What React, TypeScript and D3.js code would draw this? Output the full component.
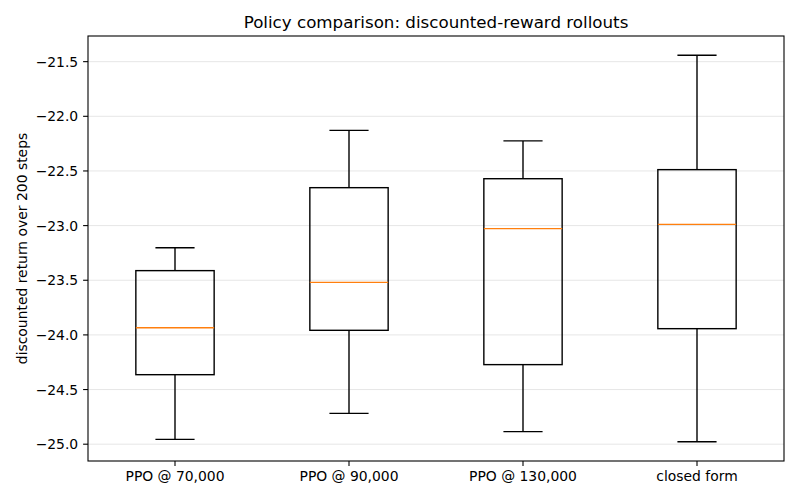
import React from "react";
import * as d3 from "d3";

// Per-policy box statistics (discounted return over 200 steps)
const policies = ["PPO @ 70,000", "PPO @ 90,000", "PPO @ 130,000", "closed form"];
const whiskerLow = [-24.956, -24.718, -24.885, -24.977];
const q1 = [-24.364, -23.958, -24.272, -23.943];
const median = [-23.934, -23.519, -23.028, -22.989];
const q3 = [-23.412, -22.653, -22.571, -22.488];
const whiskerHigh = [-23.202, -22.129, -22.225, -21.442];
const yTicks = [-21.5, -22.0, -22.5, -23.0, -23.5, -24.0, -24.5, -25.0];

const W = 800;
const H = 500;
const margin = { top: 36, right: 16, bottom: 39, left: 88 };
const FONT = "DejaVu Sans, sans-serif";

export default function App() {
  const innerW = W - margin.left - margin.right;
  const innerH = H - margin.top - margin.bottom;

  const lo = d3.min(whiskerLow) as number;
  const hi = d3.max(whiskerHigh) as number;
  const pad = (hi - lo) * 0.05;

  const x = d3.scaleLinear().domain([0.5, policies.length + 0.5]).range([0, innerW]);
  const y = d3.scaleLinear().domain([lo - pad, hi + pad]).range([innerH, 0]);

  const boxW = x(1.45) - x(1);
  const capW = boxW / 2;
  const fmt = (v: number) => v.toFixed(1).replace("-", "\u2212");

  return (
    <svg width={W} height={H} style={{ position: "absolute", left: 0, top: 0 }} fontFamily={FONT}>
      <rect width={W} height={H} fill="#fff" />
      <text x={margin.left + innerW / 2} y={28} textAnchor="middle" fontSize={16.7}>
        Policy comparison: discounted-reward rollouts
      </text>
      <g transform={`translate(${margin.left},${margin.top})`}>
        {yTicks.map((t) => (
          <line key={"g" + t} x1={0} x2={innerW} y1={y(t)} y2={y(t)} stroke="#e6e6e6" strokeWidth={1} />
        ))}
        {policies.map((p, i) => {
          const cx = x(i + 1);
          return (
            <g key={p} fill="none" stroke="#000" strokeWidth={1.4}>
              <line x1={cx} x2={cx} y1={y(q3[i])} y2={y(whiskerHigh[i])} />
              <line x1={cx} x2={cx} y1={y(q1[i])} y2={y(whiskerLow[i])} />
              <line x1={cx - capW / 2} x2={cx + capW / 2} y1={y(whiskerHigh[i])} y2={y(whiskerHigh[i])} />
              <line x1={cx - capW / 2} x2={cx + capW / 2} y1={y(whiskerLow[i])} y2={y(whiskerLow[i])} />
              <rect x={cx - boxW / 2} width={boxW} y={y(q3[i])} height={y(q1[i]) - y(q3[i])} />
              <line x1={cx - boxW / 2} x2={cx + boxW / 2} y1={y(median[i])} y2={y(median[i])} stroke="#ff7f0e" />
            </g>
          );
        })}
        <rect x={0} y={0} width={innerW} height={innerH} fill="none" stroke="#000" strokeWidth={1.1} />
        {yTicks.map((t) => (
          <g key={"t" + t} transform={`translate(0,${y(t)})`}>
            <line x1={-4.9} x2={0} stroke="#000" strokeWidth={1.1} />
            <text x={-9.8} dy="0.36em" textAnchor="end" fontSize={13.9}>{fmt(t)}</text>
          </g>
        ))}
        {policies.map((p, i) => (
          <g key={"x" + p} transform={`translate(${x(i + 1)},${innerH})`}>
            <line y1={0} y2={4.9} stroke="#000" strokeWidth={1.1} />
            <text y={20} textAnchor="middle" fontSize={13.9}>{p}</text>
          </g>
        ))}
      </g>
      <text
        transform={`translate(27,${margin.top + innerH / 2}) rotate(-90)`}
        textAnchor="middle"
        fontSize={13.9}
      >
        discounted return over 200 steps
      </text>
    </svg>
  );
}
